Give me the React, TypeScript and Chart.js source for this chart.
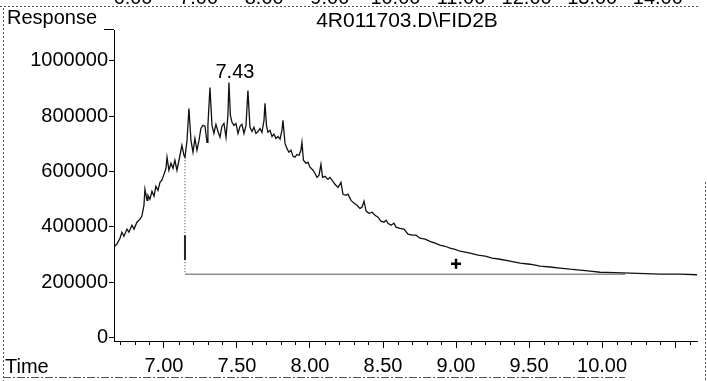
import React, { useEffect, useRef } from 'react';
import { Chart, registerables } from 'chart.js';

Chart.register(...registerables);

// Retention time (min) of the traced chromatogram points
const times = [
  6.658, 6.678, 6.699, 6.712, 6.726, 6.747, 6.760, 6.781, 6.795, 6.815,
  6.836, 6.849, 6.863, 6.870, 6.884, 6.890, 6.904, 6.918, 6.932, 6.945,
  6.959, 6.973, 6.986, 7.000, 7.014, 7.021, 7.034, 7.048, 7.062, 7.075,
  7.089, 7.103, 7.123, 7.137, 7.144, 7.158, 7.171, 7.185, 7.199, 7.212,
  7.226, 7.240, 7.253, 7.267, 7.281, 7.295, 7.301, 7.315, 7.329, 7.342,
  7.356, 7.370, 7.384, 7.397, 7.411, 7.425, 7.438, 7.445, 7.455, 7.466,
  7.479, 7.493, 7.507, 7.521, 7.534, 7.548, 7.562, 7.575, 7.589, 7.603,
  7.616, 7.630, 7.644, 7.658, 7.671, 7.685, 7.692, 7.702, 7.712, 7.726,
  7.740, 7.753, 7.767, 7.781, 7.795, 7.808, 7.815, 7.829, 7.842, 7.856,
  7.870, 7.884, 7.897, 7.911, 7.925, 7.938, 7.945, 7.955, 7.973, 7.986,
  8.000, 8.021, 8.034, 8.048, 8.062, 8.075, 8.086, 8.103, 8.123, 8.137,
  8.151, 8.171, 8.192, 8.212, 8.226, 8.247, 8.260, 8.281, 8.301, 8.322,
  8.342, 8.356, 8.370, 8.384, 8.404, 8.425, 8.445, 8.466, 8.486, 8.507,
  8.521, 8.534, 8.555, 8.575, 8.589, 8.616, 8.644, 8.671, 8.699, 8.726,
  8.753, 8.788, 8.822, 8.856, 8.890, 8.925, 8.959, 8.993, 9.027, 9.062,
  9.096, 9.151, 9.199, 9.247, 9.301, 9.370, 9.438, 9.507, 9.575, 9.644,
  9.712, 9.781, 9.849, 9.918, 9.986, 10.089, 10.192, 10.295, 10.397, 10.534,
  10.651,
];

// Detector response at each time
const responses = [
  327000, 338000, 359000, 381000, 366000, 392000, 381000, 406000, 392000, 417000,
  428000, 439000, 478000, 536000, 496000, 514000, 500000, 529000, 511000, 547000,
  532000, 561000, 569000, 590000, 612000, 652000, 605000, 630000, 612000, 641000,
  605000, 641000, 695000, 659000, 652000, 713000, 828000, 713000, 670000, 720000,
  677000, 713000, 756000, 767000, 764000, 706000, 767000, 904000, 767000, 738000,
  771000, 745000, 724000, 764000, 774000, 724000, 803000, 922000, 803000, 778000,
  767000, 774000, 738000, 764000, 771000, 738000, 767000, 893000, 760000, 745000,
  760000, 738000, 745000, 756000, 742000, 785000, 847000, 767000, 742000, 749000,
  727000, 735000, 720000, 727000, 717000, 749000, 785000, 702000, 684000, 670000,
  677000, 655000, 652000, 662000, 659000, 677000, 706000, 641000, 630000, 634000,
  616000, 605000, 594000, 579000, 587000, 626000, 579000, 583000, 572000, 579000,
  569000, 554000, 543000, 561000, 518000, 514000, 518000, 496000, 486000, 478000,
  467000, 471000, 493000, 457000, 449000, 453000, 442000, 435000, 421000, 417000,
  424000, 413000, 406000, 413000, 399000, 395000, 392000, 374000, 370000, 370000,
  359000, 356000, 348000, 341000, 334000, 330000, 323000, 319000, 312000, 309000,
  305000, 298000, 294000, 287000, 283000, 276000, 269000, 265000, 258000, 255000,
  251000, 247000, 244000, 240000, 236000, 235000, 233000, 231000, 229000, 229000,
  227000,
];

// Integration baseline and drop line
const baselineTimes = [7.144, 10.158];
const baselineResponses = [229000, 229000];
const dropTimes = [7.144, 7.144];
const dropResponses = [652000, 229000];
const dropSolidResponses = [370000, 280000];

// "+" marker
const markerTime = 9.0;
const markerResponse = 267000;

// Peak annotation
const peakLabel = '7.43';
const peakTime = 7.445;
const peakResponse = 922000;

// Axes
const xMin = 6.658;
const xMax = 10.65;
const yMin = -12600;
const yMax = 1112000;
const xMajorTicks = [7.0, 7.5, 8.0, 8.5, 9.0, 9.5, 10.0, 10.5];
const xTickLabels = ['7.00', '7.50', '8.00', '8.50', '9.00', '9.50', '10.00', ''];
const xMinorTicks = [
  6.7, 6.8, 6.9, 7.1, 7.2, 7.3, 7.4, 7.6, 7.7, 7.8, 7.9, 8.1, 8.2, 8.3, 8.4,
  8.6, 8.7, 8.8, 8.9, 9.1, 9.2, 9.3, 9.4, 9.6, 9.7, 9.8, 9.9, 10.1, 10.2, 10.3,
  10.4, 10.6,
];
const yTickValues = [0, 200000, 400000, 600000, 800000, 1000000];
const yTickLabels = ['0', '200000', '400000', '600000', '800000', '1000000'];

// Texts
const titleText = '4R011703.D\\FID2B';
const yAxisTitle = 'Response';
const xAxisTitle = 'Time';
const prevPanelLabels = ['6.00', '7.00', '8.00', '9.00', '10.00', '11.00', '12.00', '13.00', '14.00'];

const FONT = '"Liberation Sans", Arial, Helvetica, sans-serif';

const decorPlugin = {
  id: 'decor',
  afterDraw(chart: any) {
    const { ctx, chartArea } = chart;
    const xs = chart.scales.x;
    const ys = chart.scales.y;
    ctx.save();
    // minor ticks on time axis
    ctx.strokeStyle = '#000';
    ctx.lineWidth = 1;
    ctx.setLineDash([]);
    for (const v of xMinorTicks) {
      const px = Math.round(xs.getPixelForValue(v)) + 0.5;
      ctx.beginPath();
      ctx.moveTo(px, chartArea.bottom);
      ctx.lineTo(px, chartArea.bottom + 4);
      ctx.stroke();
    }
    // short mark at top of response axis
    ctx.beginPath();
    ctx.moveTo(chartArea.left - 10, chartArea.top - 0.5);
    ctx.lineTo(chartArea.left, chartArea.top - 0.5);
    ctx.stroke();

    // frame (scanned page borders)
    ctx.strokeStyle = '#555';
    ctx.setLineDash([2, 2]);
    ctx.beginPath();
    ctx.moveTo(0, 6.5);
    ctx.lineTo(700, 6.5);
    ctx.stroke();
    ctx.beginPath();
    ctx.moveTo(3.5, 8);
    ctx.lineTo(3.5, 381);
    ctx.stroke();
    ctx.beginPath();
    ctx.moveTo(705.5, 182);
    ctx.lineTo(705.5, 381);
    ctx.stroke();
    ctx.setLineDash([8, 2, 2, 2]);
    ctx.beginPath();
    ctx.moveTo(3, 377.5);
    ctx.lineTo(625, 377.5);
    ctx.stroke();
    ctx.setLineDash([]);

    // texts
    ctx.fillStyle = '#000';
    ctx.textBaseline = 'alphabetic';
    ctx.font = `20px ${FONT}`;
    ctx.textAlign = 'left';
    ctx.fillText(yAxisTitle, 7, 24);
    ctx.fillText(xAxisTitle, 5, 373);
    ctx.textAlign = 'center';
    ctx.font = `21px ${FONT}`;
    ctx.fillText(titleText, 407, 27);
    ctx.font = `20px ${FONT}`;
    ctx.fillText(
      peakLabel,
      xs.getPixelForValue(peakTime) + 6,
      ys.getPixelForValue(peakResponse) - 5
    );
    // cut-off labels of the panel above
    prevPanelLabels.forEach((lab, i) => {
      ctx.fillText(lab, 133 + i * 65.6, 4);
    });
    ctx.restore();
  },
};

export default function App() {
  const ref = useRef<HTMLCanvasElement | null>(null);

  useEffect(() => {
    document.body.style.margin = '0';
    const canvas = ref.current;
    if (!canvas) return;
    const tickFont = { family: FONT, size: 20 };
    const chart = new Chart(canvas, {
      type: 'line',
      data: {
        datasets: [
          {
            data: times.map((t, i) => ({ x: t, y: responses[i] })),
            borderColor: '#111',
            borderWidth: 1.3,
            pointRadius: 0,
            tension: 0,
          },
          {
            data: baselineTimes.map((t, i) => ({ x: t, y: baselineResponses[i] })),
            borderColor: '#555',
            borderWidth: 1,
            pointRadius: 0,
          },
          {
            data: dropTimes.map((t, i) => ({ x: t, y: dropResponses[i] })),
            borderColor: '#333',
            borderWidth: 1,
            borderDash: [1, 2],
            pointRadius: 0,
          },
          {
            data: dropTimes.map((t, i) => ({ x: t, y: dropSolidResponses[i] })),
            borderColor: '#222',
            borderWidth: 2,
            pointRadius: 0,
          },
          {
            data: [{ x: markerTime, y: markerResponse }],
            showLine: false,
            pointStyle: 'cross',
            pointRadius: 5,
            pointBorderWidth: 2.5,
            borderColor: '#000',
            pointBorderColor: '#000',
          },
        ],
      },
      options: {
        responsive: false,
        animation: false,
        devicePixelRatio: 1,
        layout: { padding: { top: 30, right: 10, left: 0, bottom: 0 } },
        plugins: {
          legend: { display: false },
          tooltip: { enabled: false },
        },
        scales: {
          x: {
            type: 'linear',
            min: xMin,
            max: xMax,
            afterFit: (s: any) => {
              s.height = 40;
            },
            afterBuildTicks: (s: any) => {
              s.ticks = xMajorTicks.map((v) => ({ value: v }));
            },
            ticks: {
              callback: (_v: any, i: number) => xTickLabels[i],
              font: tickFont,
              color: '#000',
              padding: 6,
              maxRotation: 0,
              autoSkip: false,
            },
            grid: {
              drawOnChartArea: false,
              drawTicks: true,
              tickLength: 7,
              color: '#000',
            },
            border: { display: true, color: '#000', width: 1 },
          },
          y: {
            type: 'linear',
            min: yMin,
            max: yMax,
            afterFit: (s: any) => {
              s.width = 114;
            },
            afterBuildTicks: (s: any) => {
              s.ticks = yTickValues.map((v) => ({ value: v }));
            },
            ticks: {
              callback: (_v: any, i: number) => yTickLabels[i],
              font: tickFont,
              color: '#000',
              padding: 1,
              autoSkip: false,
            },
            grid: {
              drawOnChartArea: false,
              drawTicks: true,
              tickLength: 5,
              color: '#000',
            },
            border: { display: true, color: '#000', width: 1 },
          },
        },
      },
      plugins: [decorPlugin],
    } as any);
    return () => chart.destroy();
  }, []);

  return (
    <canvas
      ref={ref}
      width={707}
      height={381}
      style={{ display: 'block', width: '707px', height: '381px' }}
    />
  );
}
